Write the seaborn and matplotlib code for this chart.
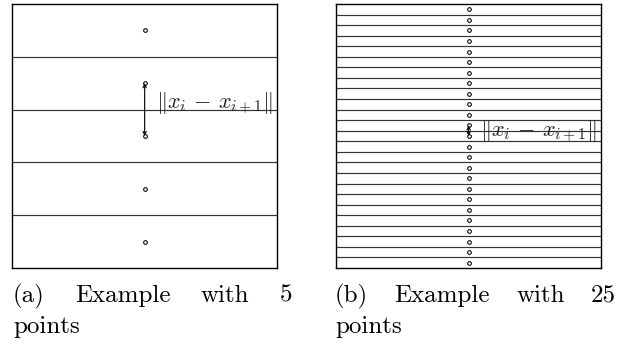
import numpy as np
import pandas as pd
import seaborn as sns
import matplotlib
matplotlib.use("Agg")
import matplotlib.pyplot as plt

sns.set_theme(style="white")
plt.rcParams["mathtext.fontset"] = "cm"
plt.rcParams["font.family"] = ["cmr10", "DejaVu Sans"]
plt.rcParams["axes.formatter.use_mathtext"] = True

# ---- data ----
points_a_y = [0.5, 1.5, 2.5, 3.5, 4.5]
points_b_y = [0.5, 1.5, 2.5, 3.5, 4.5, 5.5, 6.5, 7.5, 8.5, 9.5, 10.5, 11.5,
              12.5, 13.5, 14.5, 15.5, 16.5, 17.5, 18.5, 19.5, 20.5, 21.5,
              22.5, 23.5, 24.5]
point_x = 0.5
arrow_pair_a = (1.5, 2.5)      # points 2 and 3
arrow_pair_b = (11.5, 12.5)    # points 12 and 13
label_text = r"$\|x_i\,-\,x_{i+1}\|$"
caption_a_line1 = ["(a)", "Example", "with", "5"]
caption_b_line1 = ["(b)", "Example", "with", "25"]
caption_line2 = "points"

W, H = 618, 344
fig = plt.figure(figsize=(W / 100, H / 100), dpi=100)


def px_rect(x0, y0, x1, y1):
    return [x0 / W, 1 - y1 / H, (x1 - x0) / W, (y1 - y0) / H]


panels = [
    dict(rect=px_rect(12.3, 4, 277, 268), ys=points_a_y, pair=arrow_pair_a,
         label_y=1.87, cap=caption_a_line1, cap_l=13, cap_r=292),
    dict(rect=px_rect(336.3, 4, 601, 268), ys=points_b_y, pair=arrow_pair_b,
         label_y=11.98, cap=caption_b_line1, cap_l=335, cap_r=616),
]

for p in panels:
    ax = fig.add_axes(p["rect"])
    n = len(p["ys"])
    df = pd.DataFrame({"x": [point_x] * n, "y": p["ys"]})
    ax.hlines(np.arange(1, n), 0, 1, colors="#333333", linewidth=0.85, zorder=1)
    sns.scatterplot(data=df, x="x", y="y", ax=ax, marker="o", s=7,
                    facecolor="white", edgecolor="black", linewidth=0.75,
                    zorder=3, legend=False)
    ax.annotate("", xy=(point_x, p["pair"][0]), xytext=(point_x, p["pair"][1]),
                arrowprops=dict(arrowstyle="<->", color="black", lw=0.8,
                                shrinkA=0, shrinkB=0, mutation_scale=6),
                zorder=4)
    ax.text(0.543, p["label_y"], label_text, fontsize=16, color="#222222",
            ha="left", va="center", zorder=5)
    ax.set_xlim(0, 1)
    ax.set_ylim(n, 0)
    ax.set_xticks([])
    ax.set_yticks([])
    ax.set_xlabel("")
    ax.set_ylabel("")
    for s in ax.spines.values():
        s.set_color("black")
        s.set_linewidth(1.0)

# ---- captions (justified first line) ----
cap_size = 18
fig.canvas.draw()
renderer = fig.canvas.get_renderer()
for p in panels:
    texts = [fig.text(0, 1 - 302 / H, w, fontsize=cap_size, color="black",
                      family="cmr10", ha="left", va="baseline")
             for w in p["cap"]]
    widths = [t.get_window_extent(renderer).width for t in texts]
    gap = (p["cap_r"] - p["cap_l"] - sum(widths)) / (len(texts) - 1)
    x = p["cap_l"]
    for t, w in zip(texts, widths):
        t.set_x(x / W)
        x += w + gap
    fig.text(p["cap_l"] / W, 1 - 333.5 / H, caption_line2, fontsize=cap_size,
             color="black", family="cmr10", ha="left", va="baseline")

fig.savefig("out.png", dpi=100)
